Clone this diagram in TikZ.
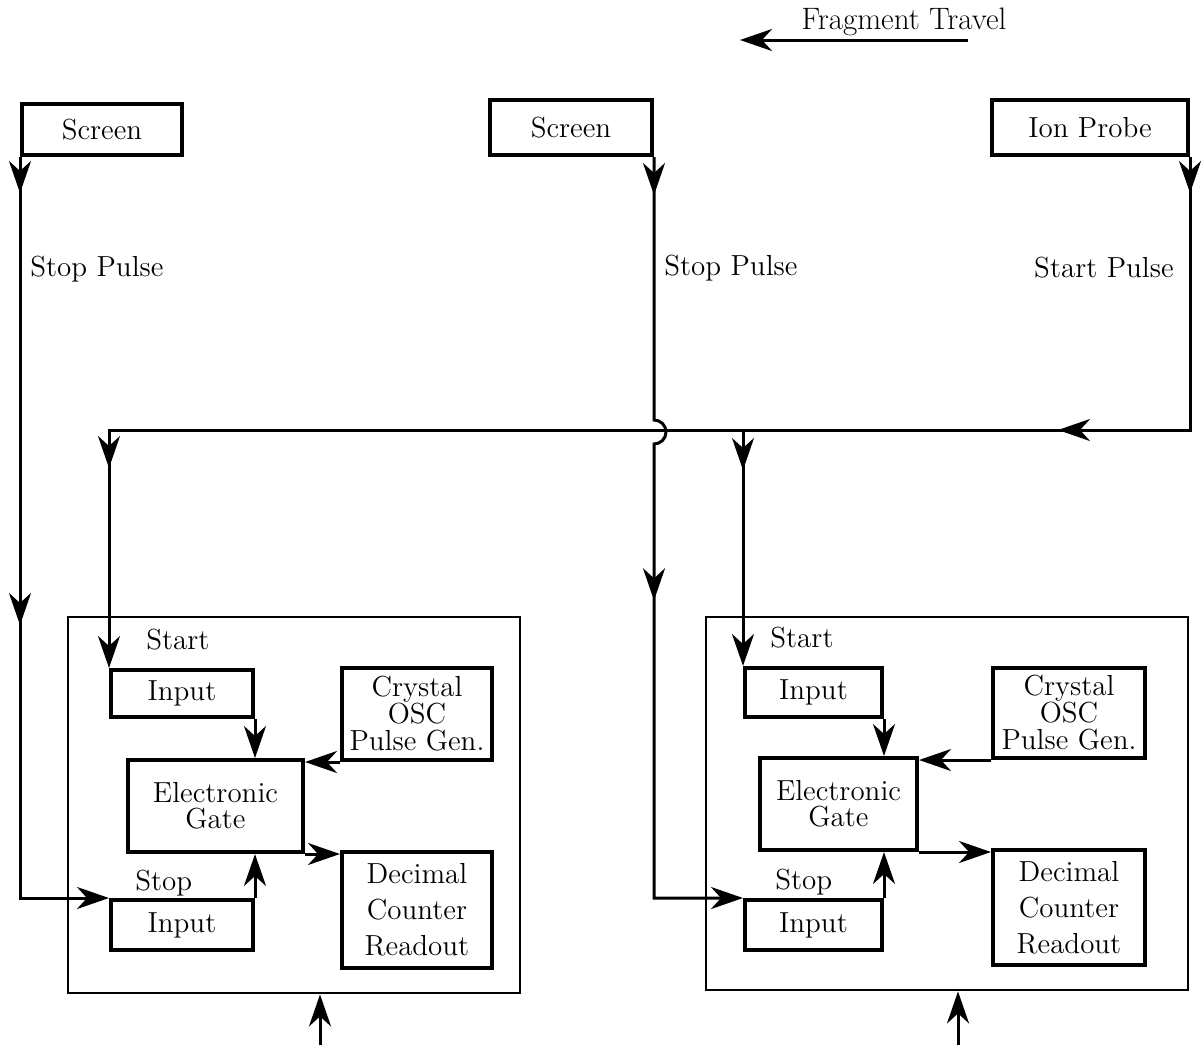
\documentclass[tikz,border=0pt]{standalone}
\usetikzlibrary{arrows.meta,positioning,decorations.markings}

\begin{document}
\begin{tikzpicture}[x=0.5pt, y=0.5pt,
    >={Stealth[length=16pt, width=11pt, inset=5pt]},
    unit/.style = {rectangle, draw, line width=2pt, inner sep=0pt, align=center, font=\fontsize{14.5}{14}\selectfont},
    frame/.style = {rectangle, draw, line width=1.4pt, inner sep=0pt},
    wire/.style = {line width=1.5pt},
    pulseat/.style = {postaction={decorate, decoration={markings, mark=at position #1 with {\arrow{>}}}}},
    note/.style = {inner sep=0pt, font=\fontsize{14.5}{16}\selectfont},
    ]
        \useasboundingbox (0,0) rectangle (1202,-1049);

        % Nodes
        \node[unit, minimum width=80pt, minimum height=25.5pt] (scrA) at (102,-129.5) {Screen};
        \node[unit, minimum width=81pt, minimum height=27.5pt] (scrB) at (571,-127.5) {Screen};
        \node[unit, minimum width=98pt, minimum height=27.5pt] (probe) at (1090,-127.5) {Ion Probe};
        %
        \node[note, anchor=west] (stopA) at (30,-269) {Stop Pulse};
        \node[note, anchor=west] (stopB) at (664,-268) {Stop Pulse};
        \node[note, anchor=east] (startP) at (1174,-268) {Start Pulse};
        \node[note, font=\fontsize{15.5}{17}\selectfont] (frag) at (904,-22) {Fragment Travel};
        %
        \node[frame, minimum width=226pt, minimum height=188pt] (outL) at (294,-805) {};
        \node[unit, minimum width=71pt, minimum height=23.5pt] (inLa) at (182,-693.5) {Input};
        \node[unit, minimum width=75pt, minimum height=46pt, font=\fontsize{14.5}{13.5}\selectfont] (xtalL) at (417,-714) {Crystal\\OSC\\Pulse Gen.};
        \node[unit, minimum width=87.5pt, minimum height=46pt, font=\fontsize{14.5}{13}\selectfont] (gateL) at (215.5,-806) {Electronic\\Gate};
        \node[unit, minimum width=75pt, minimum height=58pt, font=\fontsize{14.5}{18}\selectfont] (decL) at (417,-910) {Decimal\\Counter\\Readout};
        \node[unit, minimum width=71pt, minimum height=25pt] (inLb) at (182,-925) {Input};
        \node[note, anchor=west] (startL) at (146,-640) {Start};
        \node[note, anchor=west] (stopL) at (135,-883) {Stop};
        %
        \node[frame, minimum width=241pt, minimum height=186.5pt] (outR) at (947,-803.5) {};
        \node[unit, minimum width=68.5pt, minimum height=24.5pt] (inRa) at (813.5,-692.5) {Input};
        \node[unit, minimum width=76pt, minimum height=45pt, font=\fontsize{14.5}{13.5}\selectfont] (xtalR) at (1069,-713) {Crystal\\OSC\\Pulse Gen.};
        \node[unit, minimum width=78.5pt, minimum height=46pt, font=\fontsize{14.5}{13}\selectfont] (gateR) at (838.5,-804) {Electronic\\Gate};
        \node[unit, minimum width=76pt, minimum height=57.5pt, font=\fontsize{14.5}{18}\selectfont] (decR) at (1069,-907.5) {Decimal\\Counter\\Readout};
        \node[unit, minimum width=68.5pt, minimum height=25pt] (inRb) at (813.5,-925) {Input};
        \node[note, anchor=west] (startR) at (770,-638) {Start};
        \node[note, anchor=west] (stopR) at (775,-882) {Stop};
        %
        \coordinate (busE) at (probe.south east |- 0,-430);
        \coordinate (trigL) at (320,-1045);
        \coordinate (trigR) at (958,-1045);
        \coordinate (fragE) at (968,-40);
        \coordinate (fragW) at (740,-40);

        % Draw
        \draw [wire, ->] (fragE) -- (fragW);
        \draw [wire, ->, pulseat=18pt, pulseat=234pt] (scrA.south west) -- (scrA.south west |- inLb.north) -- (inLb.north west);
        \draw [wire, ->, pulseat=19pt, pulseat=228.5pt] (scrB.south east) -- ++(0,-263) arc[start angle=90, end angle=-90, radius=12] -- (scrB.south east |- inRb.north) -- (inRb.north west);
        \draw [wire, ->, pulseat=18pt, pulseat=202.5pt, pulseat=696pt] (probe.south east) -- (busE) -- (inLa.north west |- busE) -- (inLa.north west);
        \draw [wire, ->, pulseat=20pt] (inRa.north west |- busE) -- (inRa.north west);
        %
        \draw [wire, ->] (inLa.south east) -- (inLa.south east |- gateL.north);
        \draw [wire, ->] (xtalL.south west) -- (xtalL.south west -| gateL.east);
        \draw [wire, ->] (gateL.south east) -- (gateL.south east -| decL.west);
        \draw [wire, ->] (inLb.north east) -- (inLb.north east |- gateL.south);
        \draw [wire, ->] (trigL) -- (trigL |- outL.south);
        %
        \draw [wire, ->] (inRa.south east) -- (inRa.south east |- gateR.north);
        \draw [wire, ->] (xtalR.south west) -- (xtalR.south west -| gateR.east);
        \draw [wire, ->] (gateR.south east) -- (gateR.south east -| decR.west);
        \draw [wire, ->] (inRb.north east) -- (inRb.north east |- gateR.south);
        \draw [wire, ->] (trigR) -- (trigR |- outR.south);
    \end{tikzpicture}
\end{document}
